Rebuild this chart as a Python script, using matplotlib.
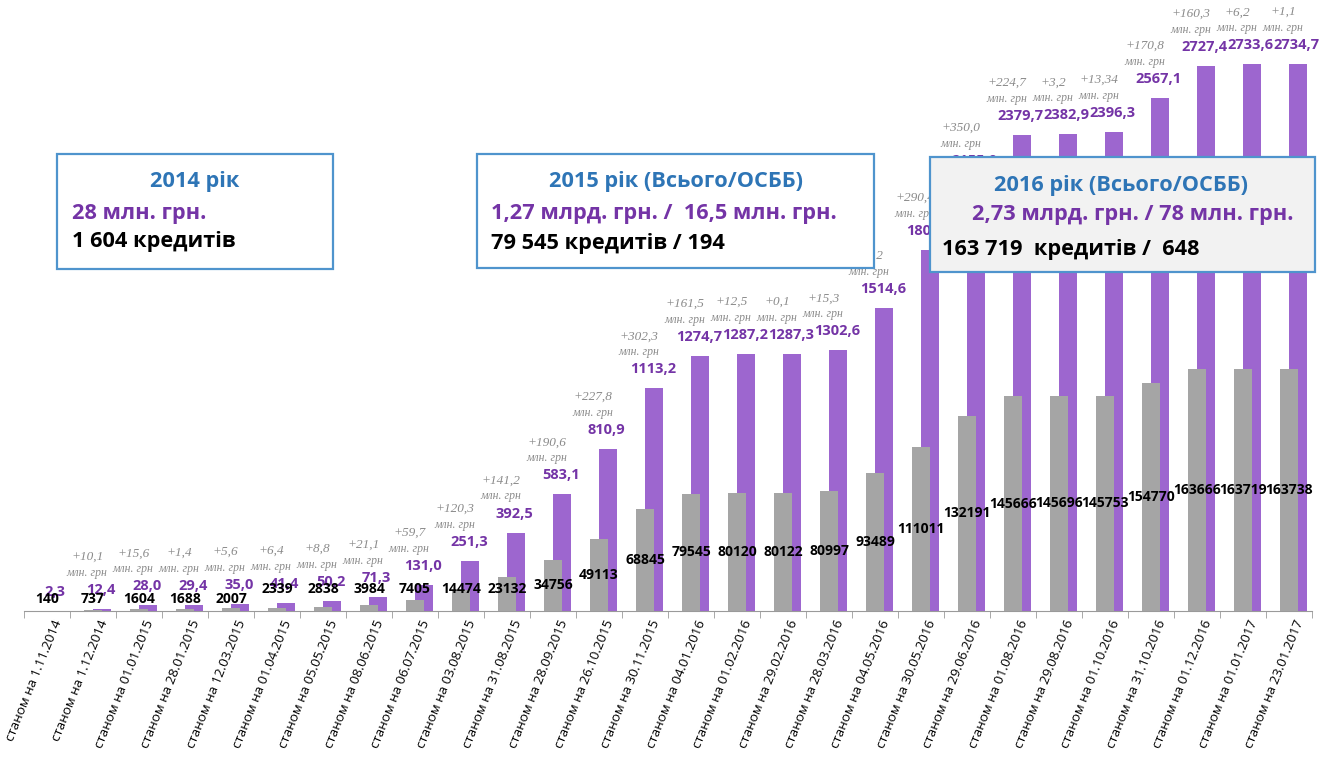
import numpy as np
import matplotlib
matplotlib.use("Agg")
from matplotlib import pyplot as plt
from matplotlib.patches import Rectangle
import matplotlib.transforms as mtransforms

# дані
dates = ["1.11.2014", "1.12.2014", "01.01.2015", "28.01.2015", "12.03.2015",
         "01.04.2015", "05.05.2015", "08.06.2015", "06.07.2015", "03.08.2015",
         "31.08.2015", "28.09.2015", "26.10.2015", "30.11.2015", "04.01.2016",
         "01.02.2016", "29.02.2016", "28.03.2016", "04.05.2016", "30.05.2016",
         "29.06.2016", "01.08.2016", "29.08.2016", "01.10.2016", "31.10.2016",
         "01.12.2016", "01.01.2017", "23.01.2017"]
amounts = [2.3, 12.4, 28.0, 29.4, 35.0, 41.4, 50.2, 71.3, 131.0, 251.3,
           392.5, 583.1, 810.9, 1113.2, 1274.7, 1287.2, 1287.3, 1302.6, 1514.6, 1805.0,
           2155.0, 2379.7, 2382.9, 2396.3, 2567.1, 2727.4, 2733.6, 2734.7]
credits = [140, 737, 1604, 1688, 2007, 2339, 2838, 3984, 7405, 14474,
           23132, 34756, 49113, 68845, 79545, 80120, 80122, 80997, 93489, 111011,
           132191, 145666, 145696, 145753, 154770, 163666, 163719, 163738]
# прирости (для першої дати немає)
increments = ["", "+10,1", "+15,6", "+1,4", "+5,6", "+6,4", "+8,8", "+21,1", "+59,7", "+120,3",
              "+141,2", "+190,6", "+227,8", "+302,3", "+161,5", "+12,5", "+0,1", "+15,3", "+212", "+290,4",
              "+350,0", "+224,7", "+3,2", "+13,34", "+170,8", "+160,3", "+6,2", "+1,1"]

PURPLE = "#9D66CF"
PURPLE_TXT = "#7434A6"
GREY = "#A5A5A5"
BLUE = "#2E75B6"
BOX_EDGE = "#4F94CD"

W, H = 1319, 764
fig = plt.figure(figsize=(W / 100, H / 100), dpi=100)
fig.patch.set_facecolor("white")

def fx(px):
    return px / W

def fy(py):
    return 1 - py / H

BOLD = ["Open Sans", "DejaVu Sans"]
SERIF = ["Liberation Serif", "DejaVu Serif"]

ax = fig.add_axes([fx(24), fy(611), fx(1312) - fx(24), fy(0) - fy(611)])
ax2 = ax.twinx()
ax.set_ylim(0, 3055)
ax2.set_ylim(0, 414000)
ax.set_xlim(-0.5, len(dates) - 0.5)

x = np.arange(len(dates))
ax.bar(x + 0.2, amounts, width=0.39, color=PURPLE, zorder=2)
ax2.bar(x, credits, width=0.39, color=GREY, zorder=2)

px2pt = 0.72
for i in range(len(dates)):
    ax.annotate(f"{amounts[i]:.1f}".replace(".", ","), (x[i] + 0.2, amounts[i]),
                xytext=(-1, 19 * px2pt), textcoords="offset points",
                ha="center", va="center", color=PURPLE_TXT, fontsize=10.5,
                fontweight="bold", family=BOLD, zorder=5)
    if increments[i]:
        ax.annotate("млн. грн", (x[i] + 0.2, amounts[i]),
                    xytext=(-15 * px2pt, 36 * px2pt), textcoords="offset points",
                    ha="center", va="center", color="#8a8a8a", fontsize=8.5,
                    style="italic", family=SERIF)
        ax.annotate(increments[i], (x[i] + 0.2, amounts[i]),
                    xytext=(-15 * px2pt, 52 * px2pt), textcoords="offset points",
                    ha="center", va="center", color="#8a8a8a", fontsize=9.5,
                    style="italic", family=SERIF)
    # підписи кількості: по центру сірого стовпця, малі - трохи над віссю
    floor = 8000 if credits[i] < 2200 else 15000
    ax2.annotate(str(credits[i]), (x[i], max(credits[i] / 2, floor)),
                 ha="center", va="center", color="black", fontsize=10,
                 fontweight="bold", family=BOLD, zorder=6)

for a in (ax, ax2):
    for s in ("top", "right", "left"):
        a.spines[s].set_visible(False)
    a.set_yticks([])
ax2.spines["bottom"].set_visible(False)
ax.spines["bottom"].set_color("#9a9a9a")

ax.set_xticks(x)
ax.set_xticks(np.arange(-0.5, len(dates)), minor=True)
ax.tick_params(axis="x", which="major", length=0, pad=7)
ax.tick_params(axis="x", which="minor", length=5, color="#9a9a9a", direction="out")
labels = ax.set_xticklabels(["станом на " + d for d in dates], rotation=68,
                            ha="right", va="center", rotation_mode="anchor",
                            fontsize=9.6, family=["Open Sans", "DejaVu Sans"])
shift = mtransforms.ScaledTranslation(11 / 100, 0, fig.dpi_scale_trans)
for lab in labels:
    lab.set_transform(lab.get_transform() + shift)

# рамки з підсумками
def box(x0, y0, x1, y1, face):
    fig.patches.append(Rectangle((fx(x0), fy(y1)), fx(x1) - fx(x0), fy(y0) - fy(y1),
                                 transform=fig.transFigure, facecolor=face,
                                 edgecolor=BOX_EDGE, linewidth=1.6, zorder=10))

FS = 15.7
box(57, 154, 333, 269, "white")
fig.text(fx(195), fy(181), "2014 рік", ha="center", va="center", color=BLUE,
         fontsize=FS, fontweight="bold", family=BOLD, zorder=11)
fig.text(fx(72), fy(213), "28 млн. грн.", ha="left", va="center", color=PURPLE_TXT,
         fontsize=FS, fontweight="bold", family=BOLD, zorder=11)
fig.text(fx(72), fy(242), "1 604 кредитів", ha="left", va="center", color="black",
         fontsize=FS, fontweight="bold", family=BOLD, zorder=11)

box(477, 154, 874, 268, "white")
fig.text(fx(676), fy(181), "2015 рік (Всього/ОСББ)", ha="center", va="center", color=BLUE,
         fontsize=FS, fontweight="bold", family=BOLD, zorder=11)
fig.text(fx(491), fy(213), "1,27 млрд. грн. /  16,5 млн. грн.", ha="left", va="center",
         color=PURPLE_TXT, fontsize=FS, fontweight="bold", family=BOLD, zorder=11)
fig.text(fx(491), fy(243), "79 545 кредитів / 194", ha="left", va="center", color="black",
         fontsize=FS, fontweight="bold", family=BOLD, zorder=11)

box(930, 157, 1315, 272, "#F2F2F2")
fig.text(fx(1121), fy(185), "2016 рік (Всього/ОСББ)", ha="center", va="center", color=BLUE,
         fontsize=FS, fontweight="bold", family=BOLD, zorder=11)
fig.text(fx(972), fy(215), "2,73 млрд. грн. / 78 млн. грн.", ha="left", va="center",
         color=PURPLE_TXT, fontsize=FS, fontweight="bold", family=BOLD, zorder=11)
fig.text(fx(942), fy(250), "163 719  кредитів /  648", ha="left", va="center", color="black",
         fontsize=FS, fontweight="bold", family=BOLD, zorder=11)

fig.savefig("out.png", dpi=100)
